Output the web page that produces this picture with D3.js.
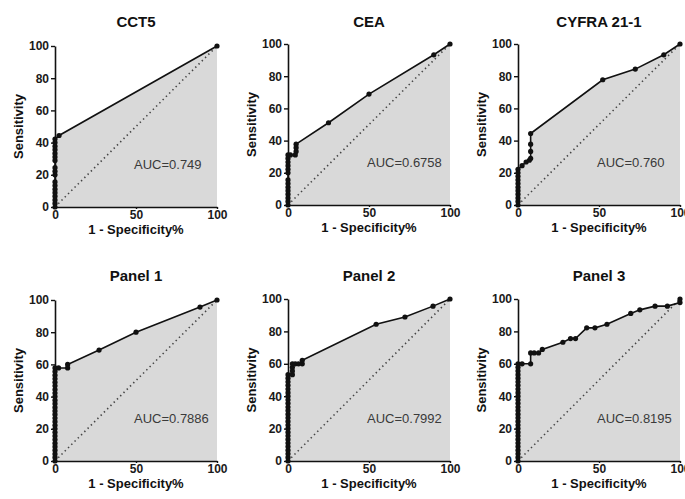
<!DOCTYPE html>
<html>
<head>
<meta charset="utf-8">
<script src="https://cdn.jsdelivr.net/npm/d3@7"></script>
<style>
  html, body { margin: 0; padding: 0; background: #fff; }
  svg { display: block; font-family: "Liberation Sans", Arial, sans-serif; }
</style>
</head>
<body>
<svg id="chart" width="685" height="499"></svg>
<script>
// ---------- data ----------
const panelTitles = ["CCT5", "CEA", "CYFRA 21-1", "Panel 1", "Panel 2", "Panel 3"];
const aucLabels = ["AUC=0.749", "AUC=0.6758", "AUC=0.760", "AUC=0.7886", "AUC=0.7992", "AUC=0.8195"];
const yTicks = [0, 20, 40, 60, 80, 100];
const xTicks = [0, 50, 100];
const xAxisTitle = "1 - Specificity%";
const yAxisTitle = "Sensitivity";

const cct5X = [0,0,0,0,0,0,0,0,0,0,0,0,0,0,0,0,0,0,2.5,100];
const cct5Y = [0,2.2,4.4,6.7,8.9,11.1,13.3,15.6,20,22.2,24.4,28.9,31.1,33.3,35.6,37.8,40,42.2,44.4,100];

const ceaX = [0,0,0,0,0,0,0,0,0,0,0,0,0,0,1.5,4.5,5,5,5,25,50,90,100];
const ceaY = [0,2.2,4.4,6.7,8.9,11.1,13.3,15.6,20,22.2,24.4,26.7,28.9,31.1,31.1,31.1,33.3,35.6,37.8,51.1,68.9,93.3,100];

const cyfraX = [0,0,0,0,0,0,0,0,0,0,0,2.5,5,7,7.8,7.8,7.8,7.8,52.3,72.4,90,100];
const cyfraY = [0,2.2,4.4,6.7,8.9,11.1,13.3,15.6,17.8,20,22.2,24.4,26.7,27.8,28.9,33.3,37.8,44.4,77.8,84.4,93.3,100];

const panel1X = [0,0,0,0,0,0,0,0,0,0,0,0,0,0,0,0,0,0,0,0,0,0,0,0,0,0,0,2.2,7.8,7.8,27.2,50,89.5,100];
const panel1Y = [0,2.2,4.4,6.7,8.9,11.1,13.3,15.6,17.8,20,22.2,24.4,26.7,28.9,31.1,33.3,35.6,37.8,40,42.2,44.4,46.7,48.9,51.1,53.3,55.6,57.8,57.8,57.8,60,68.9,80,95.6,100];

const panel2X = [0,0,0,0,0,0,0,0,0,0,0,0,0,0,0,0,0,0,0,0,0,0,0,0,0,2.7,2.7,2.7,2.7,4.5,6.5,8.8,8.8,54.4,72.2,89.5,100];
const panel2Y = [0,2.2,4.4,6.7,8.9,11.1,13.3,15.6,17.8,20,22.2,24.4,26.7,28.9,31.1,33.3,35.6,37.8,40,42.2,44.4,46.7,48.9,51.1,53.3,53.3,55.6,57.8,60,60,60,60,62.2,84.4,88.9,95.6,100];

const panel3X = [0,0,0,0,0,0,0,0,0,0,0,0,0,0,0,0,0,0,0,0,0,0,0,0,0,0,0,0,2.5,7.8,7.8,10,12.7,15,27.7,32.4,35.5,42.4,47.5,54.9,69.6,75.2,84.6,92.2,100,100];
const panel3Y = [0,2.2,4.4,6.7,8.9,11.1,13.3,15.6,17.8,20,22.2,24.4,26.7,28.9,31.1,33.3,35.6,37.8,40,42.2,44.4,46.7,48.9,51.1,53.3,55.6,57.8,60,60,60,66.7,66.7,66.7,68.9,73.3,75.6,75.6,82.2,82.2,84.4,91.1,93.3,95.6,95.6,97.8,100];

const seriesX = [cct5X, ceaX, cyfraX, panel1X, panel2X, panel3X];
const seriesY = [cct5Y, ceaY, cyfraY, panel1Y, panel2Y, panel3Y];

// ---------- layout ----------
const layout = [
  { left: 55,  top: 46,  bottom: 207, titleY: 27 },
  { left: 288, top: 44,  bottom: 205, titleY: 27 },
  { left: 518, top: 44,  bottom: 205, titleY: 27 },
  { left: 55,  top: 300, bottom: 461, titleY: 281 },
  { left: 288, top: 299, bottom: 461, titleY: 281 },
  { left: 518, top: 299, bottom: 461, titleY: 281 }
];
const plotW = 162;

const svg = d3.select("#chart");

panelTitles.forEach((title, i) => {
  const L = layout[i];
  const xs = seriesX[i], ys = seriesY[i];
  const pts = xs.map((v, k) => [v, ys[k]]);

  const x = d3.scaleLinear().domain([0, 100]).range([L.left, L.left + plotW]);
  const y = d3.scaleLinear().domain([0, 100]).range([L.bottom, L.top]);

  const g = svg.append("g");

  // area under curve
  const area = d3.area().x(d => x(d[0])).y0(y(0)).y1(d => y(d[1]));
  g.append("path").datum(pts).attr("d", area).attr("fill", "#d9d9d9").attr("stroke", "none");

  // diagonal reference
  g.append("path")
    .datum([[0, 0], [100, 100]])
    .attr("d", d3.line().x(d => x(d[0])).y(d => y(d[1])))
    .attr("stroke", "#444").attr("stroke-width", 1.6)
    .attr("stroke-dasharray", "1.4,3.2").attr("fill", "none");

  // curve
  g.append("path").datum(pts)
    .attr("d", d3.line().x(d => x(d[0])).y(d => y(d[1])))
    .attr("stroke", "#111").attr("stroke-width", 1.6).attr("fill", "none");

  g.selectAll("circle.pt").data(pts).enter().append("circle")
    .attr("class", "pt")
    .attr("cx", d => x(d[0])).attr("cy", d => y(d[1]))
    .attr("r", 2.6).attr("fill", "#111");

  // axes
  const yAx = g.append("g").attr("transform", `translate(${L.left},0)`)
    .call(d3.axisLeft(y).tickValues(yTicks).tickSize(4).tickSizeOuter(0).tickPadding(2));
  const xAx = g.append("g").attr("transform", `translate(0,${L.bottom})`)
    .call(d3.axisBottom(x).tickValues(xTicks).tickSize(2).tickSizeOuter(0).tickPadding(1));
  [yAx, xAx].forEach(ax => {
    ax.select(".domain").attr("stroke", "#111").attr("stroke-width", 1.6);
    ax.selectAll(".tick line").attr("stroke", "#111").attr("stroke-width", 1.4);
    ax.selectAll(".tick text").attr("fill", "#1a1a1a")
      .style("font-size", "12px").style("font-weight", "bold")
      .style("font-family", '"Liberation Sans", Arial, sans-serif');
  });

  // title
  g.append("text")
    .attr("x", L.left + plotW / 2).attr("y", L.titleY)
    .attr("text-anchor", "middle")
    .style("font-size", "15px").style("font-weight", "bold").attr("fill", "#111")
    .text(title);

  // x axis title
  g.append("text")
    .attr("x", L.left + plotW / 2).attr("y", L.bottom + 27)
    .attr("text-anchor", "middle")
    .style("font-size", "13px").style("font-weight", "bold").attr("fill", "#111")
    .text(xAxisTitle);

  // y axis title
  const yc = (L.top + L.bottom) / 2;
  g.append("text")
    .attr("transform", `translate(${L.left - 32},${yc}) rotate(-90)`)
    .attr("text-anchor", "middle")
    .style("font-size", "13px").style("font-weight", "bold").attr("fill", "#111")
    .text(yAxisTitle);

  // AUC label
  g.append("text")
    .attr("x", L.left + 79).attr("y", L.bottom - 38)
    .style("font-size", "13px").attr("fill", "#3a3a3a")
    .text(aucLabels[i]);
});
</script>
</body>
</html>
